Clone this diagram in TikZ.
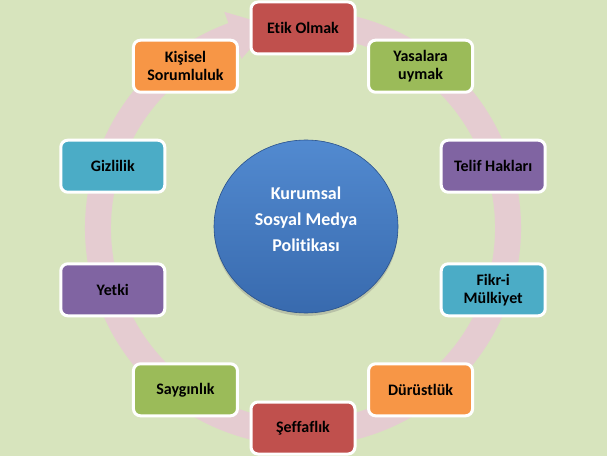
\documentclass[tikz,border=0pt]{standalone}
\usepackage{fontspec}
\setmainfont{Carlito}[Ligatures=NoCommon]
\usetikzlibrary{shapes.geometric,shadows}
\definecolor{bgGreen}{HTML}{D7E4BD}
\definecolor{ringPink}{RGB}{229,204,209}
\definecolor{boxRed}{HTML}{C0504D}
\definecolor{boxGreen}{HTML}{9BBB59}
\definecolor{boxPurple}{HTML}{8064A2}
\definecolor{boxAqua}{HTML}{4BACC6}
\definecolor{boxOrange}{HTML}{F79646}
\definecolor{topBlue}{RGB}{82,138,208}
\definecolor{bottomBlue}{RGB}{56,106,174}
\definecolor{edgeBlue}{RGB}{40,80,140}
\tikzset{
	item box/.style={rectangle, rounded corners=7, draw=white, line width=3, minimum width=104, minimum height=52, align=center, text=black, font=\bfseries\fontsize{16}{18}\selectfont},
	red box/.style={item box, fill=boxRed},
	green box/.style={item box, fill=boxGreen},
	purple box/.style={item box, fill=boxPurple},
	aqua box/.style={item box, fill=boxAqua},
	orange box/.style={item box, fill=boxOrange},
	center node/.style={ellipse, minimum width=184, minimum height=173, draw=edgeBlue, line width=0.6, top color=topBlue, bottom color=bottomBlue, drop shadow={opacity=0.35, shadow xshift=0pt, shadow yshift=-3pt}, align=center, text=white, text depth=15pt, font=\bfseries\fontsize{18}{26}\selectfont},
}

\begin{document}
\begin{tikzpicture}[x=1pt, y=1pt]

  \fill[bgGreen] (0,0) rectangle (607,456);
  \useasboundingbox (0,0) rectangle (607,456);

  \begin{scope}[shift={(303,228)}]
    % circular arrow behind the boxes
    \fill[ringPink] (80:218) arc[start angle=80, end angle=-250, radius=218]
      -- (-250:230) -- (-261:205) -- (-250:180) -- (-250:192)
      arc[start angle=-250, end angle=80, radius=192] -- cycle;

    \node[center node] (policy) at (3,1.5) {Kurumsal\\Sosyal Medya\\Politikası};

    \node[red box] (etik) at (90:200) {Etik Olmak};
    \node[green box] (yasa) at (54:200) {Yasalara\\uymak};
    \node[purple box] (telif) at (18:200) {Telif Hakları};
    \node[aqua box] (fikri) at (-18:200) {Fikr-i\\Mülkiyet};
    \node[orange box] (durust) at (-54:200) {Dürüstlük};
    \node[red box] (seffaf) at (-90:200) {Şeffaflık};
    \node[green box] (saygi) at (-126:200) {Saygınlık};
    \node[purple box] (yetki) at (-162:200) {Yetki};
    \node[aqua box] (gizli) at (162:200) {Gizlilik};
    \node[orange box] (kisisel) at (126:200) {Kişisel\\Sorumluluk};
  \end{scope}

\end{tikzpicture}
\end{document}
